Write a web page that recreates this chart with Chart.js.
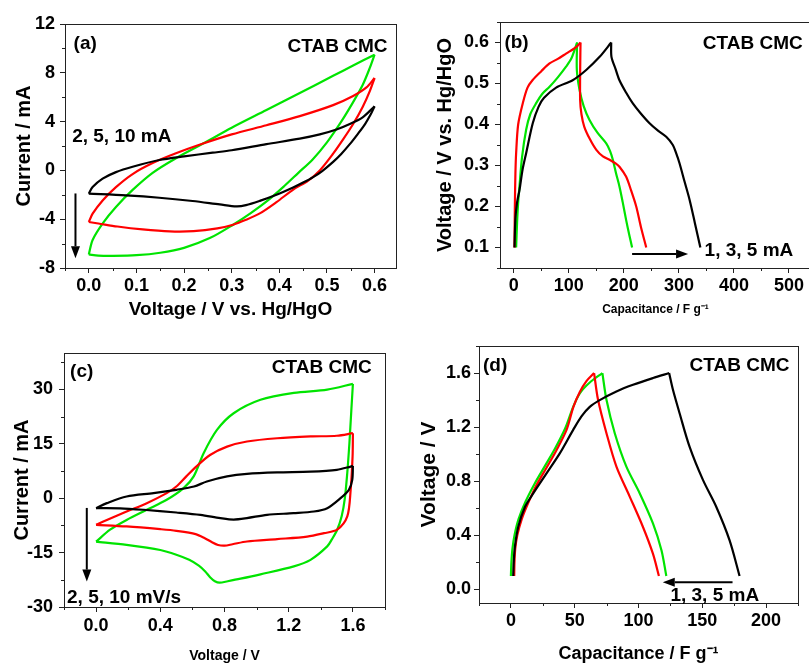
<!DOCTYPE html>
<html>
<head>
<meta charset="utf-8">
<script src="https://cdn.jsdelivr.net/npm/chart.js@4.4.1/dist/chart.umd.min.js"></script>
<style>
  html, body { margin: 0; padding: 0; background: #fff; overflow: hidden; width: 809px; height: 665px; }
  canvas { position: absolute; }
</style>
</head>
<body>
<canvas id="panelA"></canvas>
<canvas id="panelB"></canvas>
<canvas id="panelC"></canvas>
<canvas id="panelD"></canvas>
<script>
// ---------- (a) cyclic voltammetry, 0–0.6 V vs. Hg/HgO: [V, mA] ----------
const aBlackFwd = [[0,-1.91],[0.008,-1.37],[0.029,-0.68],[0.057,-0.14],[0.092,0.3],[0.148,0.85],[0.2,1.15],[0.26,1.45],[0.3,1.65],[0.373,2.15],[0.443,2.6],[0.485,2.95],[0.52,3.35],[0.548,3.8],[0.575,4.35],[0.6,5.25]];
const aBlackRev = [[0.6,5.25],[0.592,4.6],[0.58,3.8],[0.565,3.0],[0.548,2.15],[0.53,1.35],[0.513,0.7],[0.49,-0.05],[0.471,-0.55],[0.45,-1.0],[0.429,-1.4],[0.394,-2.0],[0.359,-2.5],[0.33,-2.85],[0.31,-2.95],[0.275,-2.79],[0.218,-2.51],[0.148,-2.24],[0.078,-2.05],[0,-1.91]];
const aRedFwd = [[0,-4.23],[0.008,-3.55],[0.029,-2.46],[0.057,-1.37],[0.092,-0.3],[0.134,0.6],[0.183,1.4],[0.24,2.2],[0.3,2.95],[0.373,3.7],[0.443,4.45],[0.513,5.35],[0.555,6.1],[0.583,6.8],[0.6,7.57]];
const aRedRev = [[0.6,7.57],[0.59,6.5],[0.575,5.2],[0.555,3.8],[0.535,2.6],[0.513,1.37],[0.485,0],[0.46,-0.85],[0.43,-1.55],[0.394,-2.6],[0.36,-3.5],[0.33,-4.05],[0.303,-4.45],[0.27,-4.75],[0.22,-4.98],[0.17,-5.0],[0.113,-4.84],[0.06,-4.6],[0.02,-4.35],[0,-4.23]];
const aGreenFwd = [[0,-6.89],[0.008,-5.7],[0.03,-4.3],[0.057,-3.0],[0.092,-1.6],[0.134,-0.2],[0.183,1.0],[0.24,2.2],[0.3,3.5],[0.373,4.95],[0.443,6.35],[0.513,7.75],[0.555,8.6],[0.6,9.48]];
const aGreenRev = [[0.6,9.48],[0.59,8.4],[0.575,7.0],[0.555,5.6],[0.53,4.0],[0.5,2.3],[0.47,0.9],[0.44,-0.2],[0.41,-1.3],[0.376,-2.46],[0.34,-3.5],[0.303,-4.45],[0.254,-5.55],[0.2,-6.35],[0.15,-6.75],[0.1,-6.95],[0.05,-7.0],[0.02,-6.98],[0,-6.89]];
const aXTicks = [0, 0.1, 0.2, 0.3, 0.4, 0.5, 0.6];
const aYTicks = [-8, -4, 0, 4, 8, 12];

// ---------- (b) charge/discharge, 0.1–0.6 V: [F/g, V] ----------
const bBlackCharge = [[1.3,0.1],[3,0.17],[6,0.21],[10.4,0.24],[16,0.29],[22.5,0.33],[34.5,0.403],[45,0.443],[55,0.465],[77,0.49],[107,0.508],[131.6,0.533],[156,0.565],[177,0.6]];
const bBlackDischarge = [[177,0.6],[177.5,0.565],[185,0.535],[192,0.508],[204,0.478],[216,0.452],[230,0.428],[246.7,0.403],[262,0.385],[277,0.37],[289,0.35],[295,0.33],[301,0.306],[310,0.262],[319.5,0.216],[329,0.16],[339,0.1]];
const bRedCharge = [[1.3,0.1],[2,0.2],[3,0.28],[4.3,0.33],[8,0.4],[16.4,0.452],[25,0.49],[34,0.508],[50,0.53],[65,0.549],[80,0.56],[95,0.573],[113.4,0.589],[121.3,0.6]];
const bRedDischarge = [[121.3,0.6],[120.8,0.55],[120.6,0.46],[123,0.425],[128,0.395],[138,0.365],[150,0.338],[162,0.322],[174,0.314],[185,0.305],[192,0.297],[204,0.273],[213,0.24],[222.5,0.2],[231,0.15],[240.7,0.1]];
const bGreenCharge = [[4.3,0.1],[6,0.16],[8,0.21],[10.4,0.249],[15,0.32],[22.5,0.387],[30,0.425],[40.7,0.452],[52,0.475],[65,0.492],[80,0.515],[95,0.541],[105,0.562],[115,0.6]];
const bGreenDischarge = [[115,0.6],[114.6,0.533],[119.5,0.484],[127,0.445],[137.6,0.411],[152,0.38],[168,0.354],[175,0.335],[180,0.314],[186,0.28],[192,0.249],[198,0.21],[204,0.168],[210,0.13],[215,0.1]];
const bXTicks = [0, 100, 200, 300, 400, 500];
const bYTicks = [0.1, 0.2, 0.3, 0.4, 0.5, 0.6];

// ---------- (c) cyclic voltammetry, 0–1.6 V: [V, mA] ----------
const cBlackFwd = [[0,-2.76],[0.067,-1.38],[0.19,0.46],[0.358,1.38],[0.5,2.3],[0.61,3.2],[0.69,4.6],[0.816,6.0],[0.94,6.7],[1.128,7.1],[1.336,7.3],[1.5,7.8],[1.586,8.7],[1.6,8.9]];
const cBlackRev = [[1.6,8.9],[1.596,5.05],[1.575,2.3],[1.523,0],[1.44,-2.76],[1.357,-3.68],[1.23,-4.14],[1.065,-4.6],[0.94,-5.5],[0.857,-5.9],[0.774,-5.5],[0.65,-4.6],[0.5,-3.95],[0.295,-3.2],[0.15,-2.8],[0,-2.76]];
const cRedFwd = [[0,-7.35],[0.067,-6.0],[0.19,-3.68],[0.316,-1.38],[0.44,1.38],[0.5,3.2],[0.562,6.0],[0.624,8.7],[0.71,11.9],[0.816,14.2],[0.94,15.6],[1.128,16.5],[1.336,17.0],[1.5,17.2],[1.6,17.9]];
const cRedRev = [[1.6,17.9],[1.598,11.5],[1.586,2.3],[1.565,-5.05],[1.502,-8.7],[1.42,-9.65],[1.315,-10.6],[1.128,-11.3],[0.94,-11.95],[0.85,-12.7],[0.8,-13.1],[0.76,-12.9],[0.72,-12.1],[0.68,-11.1],[0.62,-9.9],[0.5,-9.0],[0.4,-8.55],[0.19,-7.8],[0,-7.35]];
const cGreenFwd = [[0,-12.0],[0.087,-8.7],[0.19,-6.0],[0.316,-3.2],[0.44,-0.46],[0.545,2.76],[0.608,6.0],[0.67,12.4],[0.753,18.8],[0.857,23.4],[1.024,27.1],[1.232,29.0],[1.44,29.9],[1.6,31.5]];
const cGreenRev = [[1.6,31.5],[1.59,24],[1.578,15],[1.565,7],[1.55,0],[1.53,-5],[1.502,-8.7],[1.47,-11.3],[1.44,-13.3],[1.336,-17.0],[1.232,-18.8],[1.024,-21.0],[0.9,-22.2],[0.82,-22.9],[0.77,-23.3],[0.74,-22.9],[0.71,-21.8],[0.68,-20.2],[0.64,-18.6],[0.58,-17.0],[0.5,-15.6],[0.4,-14.3],[0.19,-12.9],[0,-12.0]];
const cXTicks = [0, 0.4, 0.8, 1.2, 1.6];
const cYTicks = [-30, -15, 0, 15, 30];

// ---------- (d) charge/discharge, 0.1–1.6 V: [F/g, V] ----------
const dBlackCharge = [[1.8,0.1],[2.2,0.2],[3.1,0.314],[5.7,0.462],[11,0.61],[17.5,0.71],[27.9,0.858],[38.3,1.006],[48.8,1.18],[55.3,1.28],[61.8,1.35],[69.6,1.4],[82.7,1.464],[95.7,1.513],[111.4,1.563],[124,1.6]];
const dBlackDischarge = [[124,1.6],[127,1.476],[132.2,1.303],[140,1.056],[150.5,0.81],[161,0.61],[171.4,0.363],[179.2,0.1]];
const dRedCharge = [[2.6,0.1],[2.8,0.2],[3.4,0.3],[5,0.4],[8.5,0.52],[13.6,0.64],[20,0.77],[27.9,0.9],[35.7,1.03],[43.6,1.18],[49,1.35],[54,1.46],[59.2,1.54],[65.2,1.6]];
const dRedDischarge = [[65.2,1.6],[68.3,1.402],[74.9,1.155],[82.7,0.908],[93.2,0.685],[103.5,0.462],[111.3,0.265],[116,0.1]];
const dGreenCharge = [[0,0.1],[0.4,0.2],[1.2,0.3],[2.8,0.4],[6,0.52],[11.5,0.65],[18.5,0.78],[26.5,0.91],[34.5,1.04],[42.5,1.19],[48.8,1.35],[54,1.45],[61.8,1.53],[71.7,1.6]];
const dGreenDischarge = [[71.7,1.6],[74.9,1.402],[81.4,1.155],[90.5,0.908],[101,0.71],[111.4,0.487],[118,0.29],[121.8,0.1]];
const dXTicks = [0, 50, 100, 150, 200];
const dYTicks = [0, 0.4, 0.8, 1.2, 1.6];

const FONT = '"Liberation Sans", Arial, Helvetica, sans-serif';
const BLACK = '#000000', RED = '#ff0000', GREEN = '#00e400';
const AXIS = '#222222';

function arrow(ctx, x1, y1, x2, y2) {
  const ang = Math.atan2(y2 - y1, x2 - x1), L = 12, W = 4.5;
  const bx = x2 - L * Math.cos(ang), by = y2 - L * Math.sin(ang);
  ctx.lineWidth = 2;
  ctx.beginPath(); ctx.moveTo(x1, y1); ctx.lineTo(bx, by); ctx.stroke();
  ctx.beginPath();
  ctx.moveTo(x2, y2);
  ctx.lineTo(bx - W * Math.sin(ang), by + W * Math.cos(ang));
  ctx.lineTo(bx + W * Math.sin(ang), by - W * Math.cos(ang));
  ctx.closePath(); ctx.fill();
}

// Box frame, minor ticks and in-plot labels
const decor = {
  id: 'decor',
  afterDatasetsDraw(chart) {
    const { ctx, chartArea: a } = chart;
    ctx.save();
    ctx.strokeStyle = AXIS; ctx.lineWidth = 1;
    const l = Math.round(a.left) + 0.5, t = Math.round(a.top) + 0.5;
    ctx.strokeRect(l, t, Math.round(a.right) - Math.round(a.left), Math.round(a.bottom) - Math.round(a.top));
    ctx.restore();
  },
  afterDraw(chart, args, opts) {
    const { ctx, chartArea: a } = chart;
    const sx = chart.scales.x, sy = chart.scales.y;
    ctx.save();
    ctx.strokeStyle = AXIS; ctx.lineWidth = 1;
    ctx.beginPath();
    for (const s of [sx, sy]) {
      const vals = s.ticks.map(t => t.value);
      const step = vals[1] - vals[0];
      const minors = [];
      for (let v = vals[0] - step / 2; v >= s.min - 1e-9; v -= step) minors.push(v);
      for (let v = vals[0] + step / 2; v <= s.max + 1e-9; v += step) minors.push(v);
      for (const v of minors) {
        const p = Math.round(s.getPixelForValue(v)) + 0.5;
        if (s.isHorizontal()) { ctx.moveTo(p, a.bottom); ctx.lineTo(p, a.bottom + 3); }
        else { ctx.moveTo(a.left, p); ctx.lineTo(a.left - 3, p); }
      }
    }
    ctx.stroke();
    ctx.fillStyle = '#000'; ctx.strokeStyle = '#000';
    ctx.font = 'bold 19px ' + FONT;
    ctx.textBaseline = 'middle';
    for (const n of (opts.notes || [])) {
      ctx.textAlign = n.align;
      ctx.fillText(n.text, sx.getPixelForValue(n.x), sy.getPixelForValue(n.y));
    }
    for (const r of (opts.arrows || [])) {
      arrow(ctx, sx.getPixelForValue(r[0]), sy.getPixelForValue(r[1]), sx.getPixelForValue(r[2]), sy.getPixelForValue(r[3]));
    }
    ctx.restore();
  }
};

function axis(o) {
  return {
    type: 'linear', min: o.min, max: o.max,
    afterBuildTicks: s => { s.ticks = o.ticks.map(v => ({ value: v })); },
    afterFit: s => { if (o.horizontal) s.height = o.size; else s.width = o.size; },
    ticks: {
      callback: v => Number(v).toFixed(o.dec),
      font: { family: FONT, size: 18, weight: 'bold' }, color: '#000',
      padding: o.tickPad, autoSkip: false, maxRotation: 0
    },
    grid: { display: true, drawOnChartArea: false, drawTicks: true, tickLength: 5, color: AXIS, lineWidth: 1 },
    border: { display: false },
    title: {
      display: true, text: o.title, color: '#000',
      font: { family: FONT, size: o.titleSize, weight: 'bold' },
      padding: o.horizontal ? { top: 0, bottom: o.titlePad } : { top: o.titlePad, bottom: 0 }
    }
  };
}

function panel(id, box, series, xAxis, yAxis, notes, arrows) {
  const el = document.getElementById(id);
  el.width = box.w; el.height = box.h;
  el.style.left = box.x + 'px'; el.style.top = box.y + 'px';
  xAxis.horizontal = true;
  xAxis.size = box.y + box.h - box.B;
  yAxis.size = box.L - box.x;
  return new Chart(el, {
    type: 'scatter',
    data: {
      datasets: series.map(s => ({
        data: s[0].map(p => ({ x: p[0], y: p[1] })),
        borderColor: s[1], backgroundColor: s[1],
        borderWidth: 2.2, showLine: true, pointRadius: 0, tension: 0.3, fill: false
      }))
    },
    options: {
      responsive: false, animation: false, devicePixelRatio: 1,
      layout: { padding: { left: 0, top: box.T - box.y, right: box.x + box.w - box.R, bottom: 0 } },
      plugins: { legend: { display: false }, tooltip: { enabled: false }, decor: { notes, arrows } },
      scales: { x: axis(xAxis), y: axis(yAxis) }
    },
    plugins: [decor]
  });
}

panel('panelA', { x: 0, y: 0, w: 404, h: 330, L: 65, T: 24, R: 396, B: 268 },
  [[aBlackFwd, BLACK], [aBlackRev, BLACK], [aRedFwd, RED], [aRedRev, RED], [aGreenFwd, GREEN], [aGreenRev, GREEN]],
  { min: -0.05, max: 0.645, ticks: aXTicks, dec: 1, tickPad: 2, title: 'Voltage / V vs. Hg/HgO', titleSize: 19, titlePad: 8.6 },
  { min: -8, max: 12, ticks: aYTicks, dec: 0, tickPad: 5, title: 'Current / mA', titleSize: 20, titlePad: 12.5 },
  [{ x: -0.032, y: 10.4, text: '(a)', align: 'left' },
   { x: 0.627, y: 10.16, text: 'CTAB CMC', align: 'right' },
   { x: -0.035, y: 2.79, text: '2, 5, 10 mA', align: 'left' }],
  [[-0.028, -1.89, -0.028, -7.2]]);

panel('panelB', { x: 404, y: 0, w: 420, h: 330, L: 500, T: 22, R: 811, B: 268 },
  [[bBlackCharge, BLACK], [bBlackDischarge, BLACK], [bRedCharge, RED], [bRedDischarge, RED], [bGreenCharge, GREEN], [bGreenDischarge, GREEN]],
  { min: -25, max: 540, ticks: bXTicks, dec: 0, tickPad: 2, title: 'Capacitance / F g\u207B\u00B9', titleSize: 12, titlePad: 12.8 },
  { min: 0.05, max: 0.65, ticks: bYTicks, dec: 1, tickPad: 6, title: 'Voltage / V vs. Hg/HgO', titleSize: 20, titlePad: 29 },
  [{ x: -17, y: 0.6, text: '(b)', align: 'left' },
   { x: 525, y: 0.596, text: 'CTAB CMC', align: 'right' },
   { x: 346.7, y: 0.092, text: '1, 3, 5 mA', align: 'left' }],
  [[215, 0.084, 316.7, 0.084]]);

panel('panelC', { x: 0, y: 330, w: 404, h: 335, L: 64, T: 353, R: 385, B: 607 },
  [[cBlackFwd, BLACK], [cBlackRev, BLACK], [cRedFwd, RED], [cRedRev, RED], [cGreenFwd, GREEN], [cGreenRev, GREEN]],
  { min: -0.2, max: 1.8, ticks: cXTicks, dec: 1, tickPad: 3, title: 'Voltage / V', titleSize: 14, titlePad: 0.6 },
  { min: -30, max: 40, ticks: cYTicks, dec: 0, tickPad: 6, title: 'Current / mA', titleSize: 20, titlePad: 10 },
  [{ x: -0.162, y: 34.8, text: '(c)', align: 'left' },
   { x: 1.717, y: 35.9, text: 'CTAB CMC', align: 'right' },
   { x: -0.181, y: -27.5, text: '2, 5, 10 mV/s', align: 'left' }],
  [[-0.058, -2.7, -0.058, -23]]);

panel('panelD', { x: 404, y: 330, w: 405, h: 335, L: 479, T: 346, R: 798, B: 603 },
  [[dBlackCharge, BLACK], [dBlackDischarge, BLACK], [dRedCharge, RED], [dRedDischarge, RED], [dGreenCharge, GREEN], [dGreenDischarge, GREEN]],
  { min: -25, max: 225, ticks: dXTicks, dec: 0, tickPad: 2.2, title: 'Capacitance / F g\u207B\u00B9', titleSize: 18, titlePad: 0 },
  { min: -0.1, max: 1.8, ticks: dYTicks, dec: 1, tickPad: 3, title: 'Voltage / V', titleSize: 21, titlePad: 12.4 },
  [{ x: -21.9, y: 1.654, text: '(d)', align: 'left' },
   { x: 218.3, y: 1.654, text: 'CTAB CMC', align: 'right' },
   { x: 125, y: -0.045, text: '1, 3, 5 mA', align: 'left' }],
  [[173.7, 0.054, 119, 0.054]]);
</script>
</body>
</html>
